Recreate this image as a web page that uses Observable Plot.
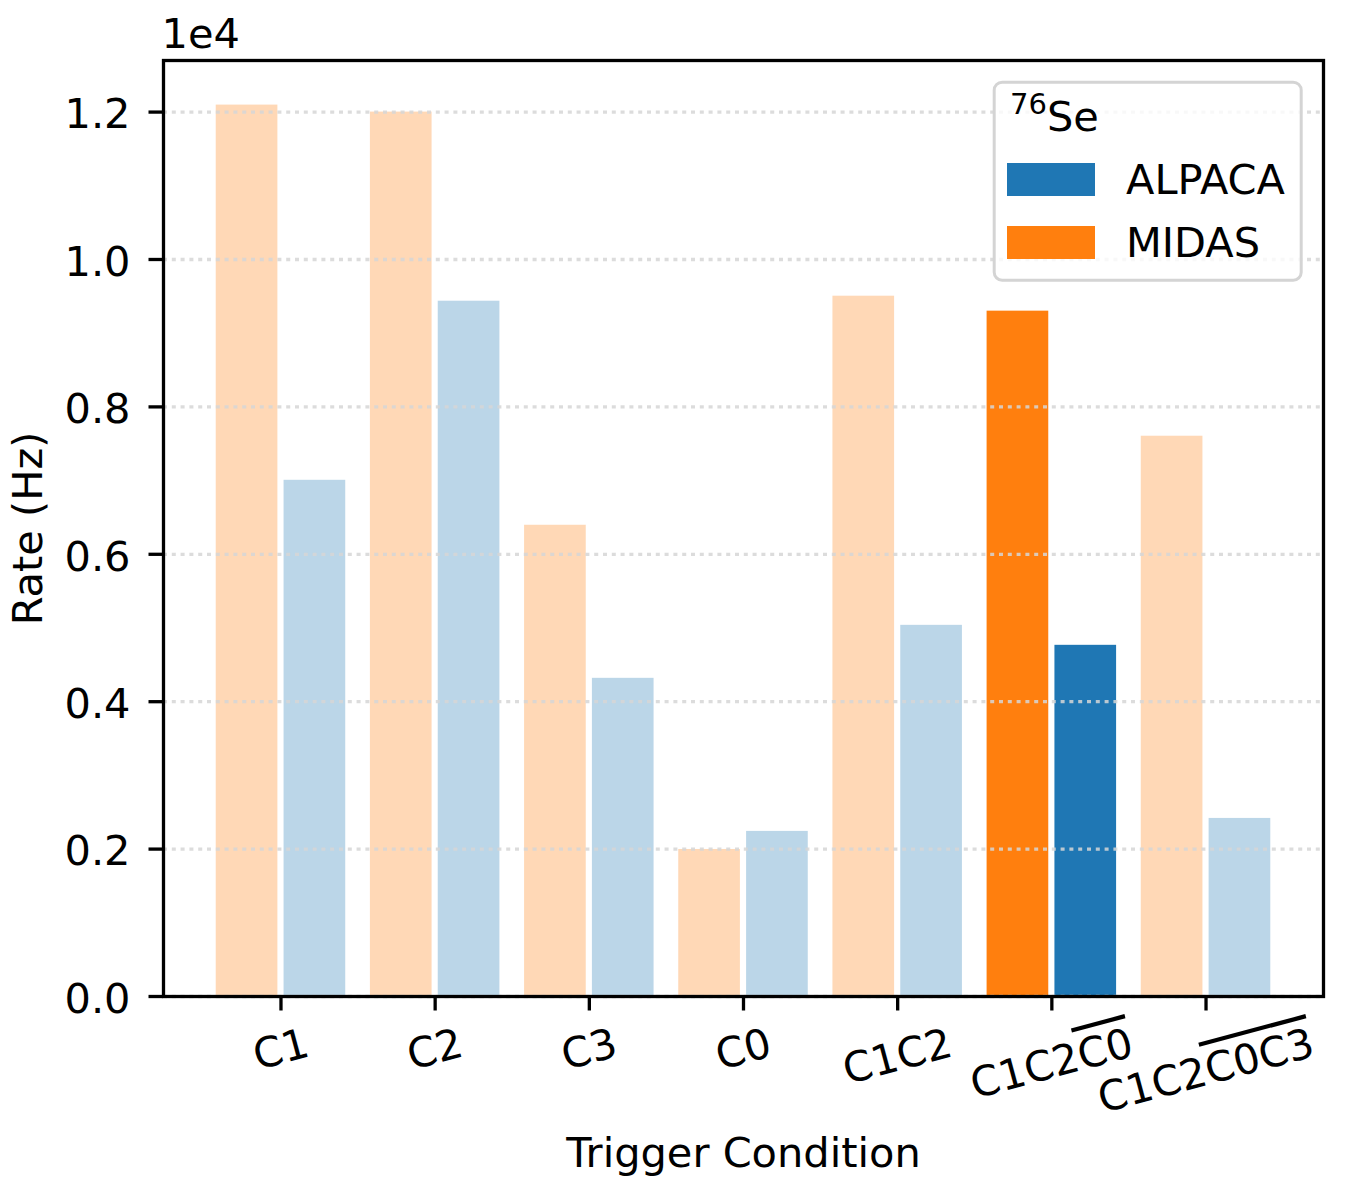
<!DOCTYPE html>
<html>
<head>
<meta charset="utf-8">
<script src="https://cdn.jsdelivr.net/npm/d3@7"></script>
<script src="https://cdn.jsdelivr.net/npm/@observablehq/plot@0.6"></script>
<style>
  html, body { margin: 0; padding: 0; background: white; }
  #chart { position: relative; width: 1350px; height: 1200px; }
</style>
</head>
<body>
<div id="chart"></div>
<script>
// ---- data ----
const categories = ["C1", "C2", "C3", "C0", "C1C2", "C1C2", "C1C2"];
const overlined  = ["", "", "", "", "", "C0", "C0C3"];
const midas  = [12095, 12000, 6394, 1995, 9502, 9299, 7602];
const alpaca = [7004, 9434, 4317, 2240, 5036, 4765, 2416];
const highlightIndex = 5;
const seriesNames = ["ALPACA", "MIDAS"];
const seriesColors = ["#1f77b4", "#ff7f0e"];
const yTicks = [0, 2000, 4000, 6000, 8000, 10000, 12000];
const legendTitleSup = "76";
const legendTitleMain = "Se";

const FONT = "DejaVu Sans";
const FS = 41.5;

const idx = categories.map((_, i) => i);
const fullLabels = categories.map((c, i) => c + overlined[i]);
const rows = [];
idx.forEach(i => {
  rows.push({i, series: "MIDAS", value: midas[i], off: -0.22});
  rows.push({i, series: "ALPACA", value: alpaca[i], off: 0.22});
});
const colorOf = s => seriesColors[seriesNames.indexOf(s)];

// measure text widths for rotated label placement
const ctx = document.createElement("canvas").getContext("2d");
ctx.font = `${FS}px "${FONT}"`;
const rad = 15 * Math.PI / 180;
const labelDy = fullLabels.map(t => {
  const w = ctx.measureText(t).width;
  const h = FS * 1.164;
  return 23 + (w * Math.sin(rad) + h * Math.cos(rad)) / 2;
});

const tickLabelMarks = idx.map(i =>
  Plot.text([i], {
    x: d => d, y: () => 0, text: d => fullLabels[d],
    rotate: -15, dy: labelDy[i], textAnchor: "middle", lineAnchor: "middle",
    fontSize: FS, fill: "black"
  })
);

const plot = Plot.plot({
  width: 1350,
  height: 1200,
  marginLeft: 163,
  marginRight: 27,
  marginTop: 60,
  marginBottom: 204,
  style: {fontFamily: FONT, fontSize: FS + "px", background: "white", color: "black"},
  x: {type: "linear", domain: [-0.762, 6.762]},
  y: {domain: [0, 12700]},
  marks: [
    Plot.rect(rows, {
      x1: d => d.i + d.off - 0.2,
      x2: d => d.i + d.off + 0.2,
      y1: 0,
      y2: d => d.value,
      fill: d => colorOf(d.series),
      fillOpacity: d => d.i === highlightIndex ? 1 : 0.3
    }),
    Plot.ruleY(yTicks, {stroke: "#d6d6d6", strokeWidth: 3.3, strokeDasharray: "4,4.8", strokeOpacity: 0.85}),
    Plot.axisX({ticks: idx, tickSize: 14.5, tickFormat: () => "", strokeWidth: 3.3, label: null}),
    Plot.axisY({ticks: yTicks, tickSize: 14.5, tickFormat: () => "", strokeWidth: 3.3, label: null}),
    Plot.text(yTicks, {
      y: d => d, text: d => (d / 1e4).toFixed(1), frameAnchor: "left",
      dx: -33, dy: 3, textAnchor: "end", lineAnchor: "middle", fontSize: FS, fill: "black"
    }),
    ...tickLabelMarks,
    Plot.text(["Trigger Condition"], {frameAnchor: "bottom", dy: 157, textAnchor: "middle", lineAnchor: "middle", fontSize: FS, fill: "black"}),
    Plot.text(["Rate (Hz)"], {frameAnchor: "left", dx: -135, rotate: -90, textAnchor: "middle", lineAnchor: "middle", fontSize: FS, fill: "black"}),
    Plot.text(["1e4"], {frameAnchor: "top-left", dx: -2, dy: -26, textAnchor: "start", lineAnchor: "middle", fontSize: FS, fill: "black"}),
    Plot.frame({stroke: "black", strokeWidth: 3.3})
  ]
});

document.getElementById("chart").appendChild(plot);

// overlines on the negated part of labels
const svg = d3.select(plot);
svg.selectAll("text").each(function() {
  const el = this;
  if (el.children.length) return;
  const t = el.textContent;
  const k = fullLabels.indexOf(t);
  if (k >= 0 && overlined[k]) {
    el.textContent = categories[k];
    d3.select(el).append("tspan")
      .style("text-decoration", "overline")
      .style("text-decoration-thickness", "2.5px")
      .text(overlined[k]);
  }
});

// legend
const lg = svg.append("g").attr("font-family", FONT).attr("text-anchor", "start");
lg.append("rect")
  .attr("x", 994.2).attr("y", 82.2).attr("width", 307).attr("height", 198)
  .attr("rx", 8).attr("fill", "white").attr("fill-opacity", 0.8)
  .attr("stroke", "#d4d4d4").attr("stroke-width", 3);
lg.append("text").attr("x", 1010).attr("y", 114).attr("font-size", 29).attr("fill", "black").text(legendTitleSup);
lg.append("text").attr("x", 1047).attr("y", 131).attr("font-size", FS).attr("fill", "black").text(legendTitleMain);
seriesNames.forEach((name, j) => {
  const top = 163 + j * 63;
  lg.append("rect").attr("x", 1007).attr("y", top).attr("width", 88).attr("height", 33).attr("fill", seriesColors[j]);
  lg.append("text").attr("x", 1126).attr("y", top + 30.5).attr("font-size", FS).attr("fill", "black").text(name);
});
</script>
</body>
</html>
